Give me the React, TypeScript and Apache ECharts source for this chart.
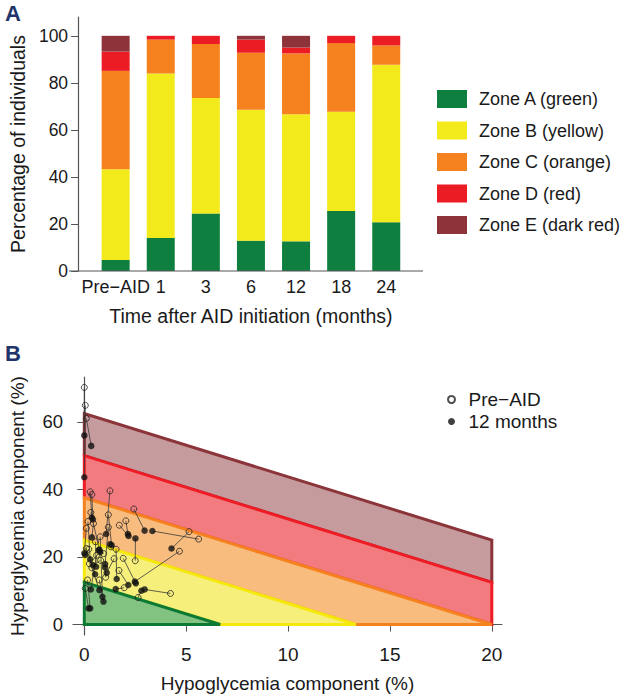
import React, { useEffect, useRef } from "react";
import * as echarts from "echarts";

// ---------- Panel A data ----------
const categories = ["Pre\u2212AID", "1", "3", "6", "12", "18", "24"];
const zoneA = [4.7, 14.0, 24.4, 12.9, 12.6, 25.5, 20.7];
const zoneB = [38.6, 70.0, 49.2, 55.7, 54.1, 42.2, 67.0];
const zoneC = [41.8, 14.4, 22.9, 24.2, 25.8, 29.2, 8.2];
const zoneD = [8.2, 1.6, 3.5, 5.6, 2.5, 3.1, 4.1];
const zoneE = [6.7, 0, 0, 1.6, 5.0, 0, 0];
const yTicksA = [0, 20, 40, 60, 80, 100];

const zoneNames = ["Zone A (green)", "Zone B (yellow)", "Zone C (orange)", "Zone D (red)", "Zone E (dark red)"];
const zoneColors = ["#0f7f40", "#f2ea1b", "#f5821f", "#ec1c24", "#8e3339"];

// ---------- Panel B data ----------
const xTicksB = [0, 5, 10, 15, 20];
const yTicksB = [0, 20, 40, 60];
// zone polygons in (hypo %, hyper %) space
const polyA = [[0, 0], [6.67, 0], [0, 12.5]];
const polyB = [[0, 12.5], [6.67, 0], [13.33, 0], [0, 25]];
const polyC = [[0, 25], [13.33, 0], [20, 0], [0, 37.5]];
const polyD = [[0, 37.5], [20, 0], [20, 12.5], [0, 50]];
const polyE = [[0, 50], [20, 12.5], [20, 25], [0, 62.5]];
const zoneFills = ["#82c382", "#f6ef7c", "#f9bc7f", "#f27b80", "#c69b9d"];
const zoneStrokes = ["#0d7a34", "#f5e80c", "#f5821f", "#ee1c25", "#8b3439"];

// individual pairs: [preHypo, preHyper, m12Hypo, m12Hyper]
const pairs = [
  [0.0, 70.2, 0.0, 56.0],
  [0.05, 64.9, 0.0, 43.6],
  [0.1, 61.0, 0.34, 52.9],
  [0.29, 39.3, 0.37, 31.7],
  [0.37, 38.5, 0.42, 31.1],
  [1.26, 39.6, 1.07, 26.8],
  [2.43, 34.2, 2.96, 27.8],
  [5.14, 27.5, 4.28, 22.5],
  [5.61, 25.3, 3.34, 27.7],
  [4.67, 21.7, 2.48, 12.7],
  [2.04, 30.7, 2.14, 26.8],
  [1.72, 29.4, 2.17, 26.2],
  [2.5, 18.9, 2.51, 25.5],
  [1.18, 32.5, 1.34, 23.5],
  [0.32, 33.2, 0.74, 22.2],
  [0.18, 30.5, 0.29, 19.3],
  [0.45, 29.9, 0.37, 25.8],
  [0.1, 28.5, 0.0, 21.1],
  [1.18, 28.8, 1.02, 17.9],
  [1.56, 22.3, 1.59, 13.5],
  [1.91, 19.6, 2.53, 12.2],
  [0.22, 22.3, 0.05, 20.6],
  [0.1, 22.5, 0.53, 14.9],
  [0.37, 16.8, 0.74, 10.2],
  [1.46, 19.5, 1.1, 15.3],
  [0.05, 10.7, 0.21, 4.8],
  [0.16, 13.2, 0.29, 4.8],
  [1.96, 10.9, 1.54, 10.5],
  [2.64, 8.0, 2.8, 10.0],
  [4.23, 9.2, 2.96, 10.4],
  [0.74, 13.2, 0.94, 6.8],
  [0.78, 26.0, 0.89, 8.2],
  [0.8, 19.0, 0.42, 17.6],
  [1.3, 23.0, 1.27, 23.8],
  [0.55, 24.5, 0.58, 17.1],
  [1.05, 14.0, 1.02, 16.9],
  [0.25, 18.0, 0.78, 21.5],
  [1.7, 16.0, 2.16, 11.7],
  [0.6, 20.5, 0.32, 10.4],
  [0.95, 21.0, 0.7, 22.0],
];

const FONT = "'Liberation Sans', Arial, Helvetica, sans-serif";
const AXIS_COLOR = "#555";
const TEXT_COLOR = "#1a1a1a";
const NAVY = "#22356a";

export default function App() {
  const ref = useRef<HTMLDivElement>(null);

  useEffect(() => {
    if (!ref.current) return;
    const chart = echarts.init(ref.current, null, { renderer: "svg" });

    const zoneSeries = [zoneA, zoneB, zoneC, zoneD, zoneE].map((vals, i) => ({
      name: zoneNames[i],
      type: "bar",
      stack: "zones",
      xAxisIndex: 0,
      yAxisIndex: 0,
      barWidth: 28,
      itemStyle: { color: zoneColors[i] },
      data: vals,
      z: 2,
    }));

    const polys = [polyA, polyB, polyC, polyD, polyE];
    const drawOrder = [4, 3, 2, 1, 0];

    const option: any = {
      animation: false,
      textStyle: { fontFamily: FONT },
      grid: [
        { left: 84, top: 17, width: 324.8, height: 254 },
        { left: 69, top: 377, width: 433, height: 258 },
      ],
      xAxis: [
        {
          type: "category",
          gridIndex: 0,
          data: categories,
          axisLine: { show: false },
          axisTick: { show: false },
          axisLabel: {
            color: TEXT_COLOR,
            fontSize: 18,
            fontFamily: FONT,
            margin: 7,
            interval: 0,
          },
          name: "Time after AID initiation (months)",
          nameLocation: "middle",
          nameGap: 35,
          nameTextStyle: { color: TEXT_COLOR, fontSize: 19.5, fontFamily: FONT },
        },
        {
          type: "value",
          gridIndex: 1,
          min: -0.555,
          max: 20.5,
          splitLine: { show: false },
          axisLine: { show: true, lineStyle: { color: AXIS_COLOR, width: 1.2 } },
          axisTick: { show: true, customValues: xTicksB, length: 7, lineStyle: { color: AXIS_COLOR } },
          axisLabel: {
            customValues: xTicksB,
            color: TEXT_COLOR,
            fontSize: 19,
            fontFamily: FONT,
            margin: 10,
          },
          name: "Hypoglycemia component (%)",
          nameLocation: "middle",
          nameGap: 39,
          nameTextStyle: { color: TEXT_COLOR, fontSize: 19, fontFamily: FONT },
        },
      ],
      yAxis: [
        {
          type: "value",
          gridIndex: 0,
          min: 0,
          max: 108,
          offset: 15,
          splitLine: { show: false },
          axisLine: { show: true, lineStyle: { color: AXIS_COLOR, width: 1.2 } },
          axisTick: { show: true, customValues: yTicksA, length: 7, lineStyle: { color: AXIS_COLOR } },
          axisLabel: {
            customValues: yTicksA,
            color: TEXT_COLOR,
            fontSize: 17.5,
            fontFamily: FONT,
            margin: 10,
          },
          name: "Percentage of individuals",
          nameLocation: "middle",
          nameGap: 48,
          nameTextStyle: { color: TEXT_COLOR, fontSize: 19.5, fontFamily: FONT },
        },
        {
          type: "value",
          gridIndex: 1,
          min: -3.1,
          max: 73.3,
          splitLine: { show: false },
          axisLine: { show: true, lineStyle: { color: AXIS_COLOR, width: 1.2 } },
          axisTick: { show: true, customValues: yTicksB, length: 7, lineStyle: { color: AXIS_COLOR } },
          axisLabel: {
            customValues: yTicksB,
            color: TEXT_COLOR,
            fontSize: 18.5,
            fontFamily: FONT,
            margin: 10,
          },
          name: "Hyperglycemia component (%)",
          nameLocation: "middle",
          nameGap: 46,
          nameTextStyle: { color: TEXT_COLOR, fontSize: 19, fontFamily: FONT },
        },
      ],
      legend: [
        {
          data: zoneNames,
          orient: "vertical",
          left: 432,
          top: 85,
          itemWidth: 30,
          itemHeight: 18,
          itemGap: 13.5,
          icon: "rect",
          textStyle: { color: TEXT_COLOR, fontSize: 18, fontFamily: FONT, padding: [0, 0, 0, 7] },
          selectedMode: false,
        },
        {
          data: ["Pre\u2212AID", "12 months"],
          orient: "vertical",
          left: 442,
          top: 385,
          itemWidth: 8,
          itemHeight: 7,
          itemGap: 3,
          textStyle: { color: TEXT_COLOR, fontSize: 19, fontFamily: FONT, padding: [0, 0, 0, 8] },
          selectedMode: false,
        },
      ],
      series: [
        ...zoneSeries,
        {
          type: "custom",
          name: "zones",
          xAxisIndex: 1,
          yAxisIndex: 1,
          silent: true,
          z: 1,
          data: drawOrder.map((k) => [k, 0]),
          encode: { x: 0, y: 1 },
          renderItem: (params: any, api: any) => {
            const k = drawOrder[params.dataIndex];
            const pts = polys[k].map((p) => api.coord(p));
            return {
              type: "polygon",
              shape: { points: pts },
              style: { fill: zoneFills[k], stroke: zoneStrokes[k], lineWidth: 3, lineJoin: "miter" },
            };
          },
        },
        {
          type: "custom",
          name: "links",
          xAxisIndex: 1,
          yAxisIndex: 1,
          silent: true,
          z: 3,
          data: pairs,
          encode: { x: [0, 2], y: [1, 3] },
          renderItem: (params: any, api: any) => {
            const a = api.coord([api.value(0), api.value(1)]);
            const b = api.coord([api.value(2), api.value(3)]);
            return {
              type: "line",
              shape: { x1: a[0], y1: a[1], x2: b[0], y2: b[1] },
              style: { stroke: "#3a3a3a", lineWidth: 0.8 },
            };
          },
        },
        {
          type: "scatter",
          name: "Pre\u2212AID",
          xAxisIndex: 1,
          yAxisIndex: 1,
          symbol: "circle",
          symbolSize: 6,
          z: 4,
          itemStyle: { color: "rgba(255,255,255,0)", borderColor: "#222", borderWidth: 1 },
          data: pairs.map((p) => [p[0], p[1]]),
        },
        {
          type: "scatter",
          name: "12 months",
          xAxisIndex: 1,
          yAxisIndex: 1,
          symbol: "circle",
          symbolSize: 6.5,
          z: 5,
          itemStyle: { color: "#111" },
          data: pairs.map((p) => [p[2], p[3]]),
        },
      ],
      graphic: [
        {
          type: "line",
          shape: { x1: 69, y1: 271, x2: 423, y2: 271 },
          style: { stroke: AXIS_COLOR, lineWidth: 1.2 },
          z: 10,
        },
        {
          type: "text",
          left: 5,
          top: 2,
          style: { text: "A", fill: NAVY, font: `bold 22px ${FONT}` },
        },
        {
          type: "text",
          left: 5,
          top: 342,
          style: { text: "B", fill: NAVY, font: `bold 22px ${FONT}` },
        },
      ],
    };

    chart.setOption(option);
    return () => chart.dispose();
  }, []);

  return <div ref={ref} style={{ width: 620, height: 698, position: "absolute", left: 0, top: 0 }} />;
}
